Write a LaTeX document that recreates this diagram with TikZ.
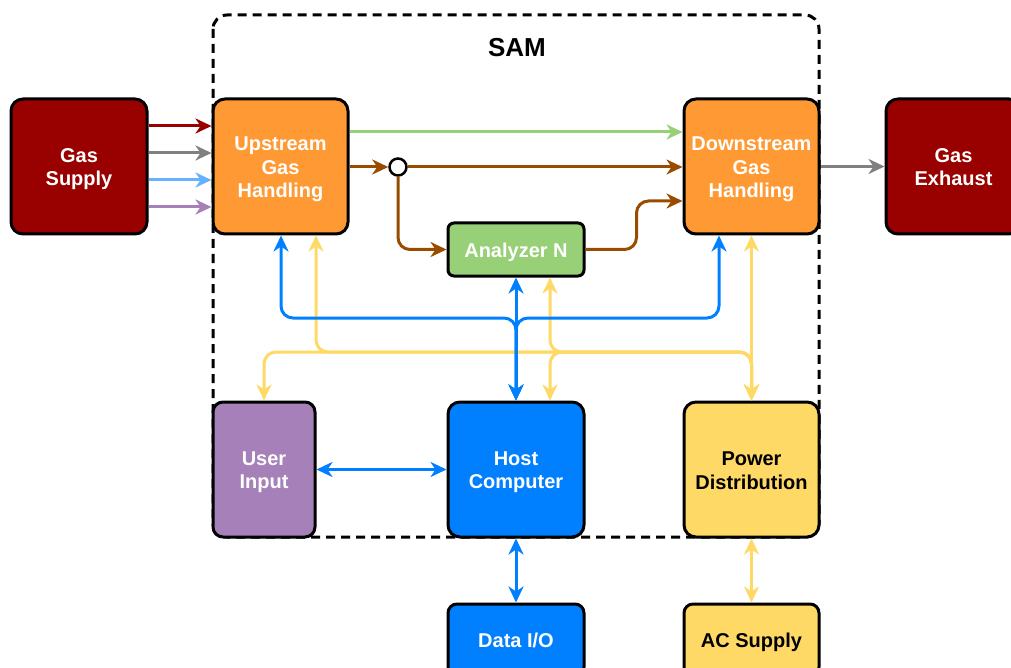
\documentclass[tikz,border=0pt]{standalone}
\usepackage{fontspec}
\setmainfont{Liberation Sans}
\usetikzlibrary{arrows.meta}
\definecolor{cDarkRed}{HTML}{990000}
\definecolor{cOrange}{HTML}{FF9933}
\definecolor{cGreen}{HTML}{97D077}
\definecolor{cPurple}{HTML}{A680B8}
\definecolor{cBlue}{HTML}{007FFF}
\definecolor{cYellow}{HTML}{FFD966}
\definecolor{cBrown}{HTML}{994C00}
\definecolor{cGray}{HTML}{808080}
\definecolor{cLightBlue}{HTML}{66B2FF}
\newcommand\topstrut{\rule{0pt}{19.5pt}}
\newcommand\botstrut{\rule[-3.9pt]{0pt}{0pt}}
\begin{document}
\begin{tikzpicture}[x=1pt,y=-1pt,
  >={Stealth[length=16pt,width=15pt,inset=5pt]},
  box/.style={draw=black, line width=3pt, rounded corners=12pt, align=center, inner sep=0pt,
    font=\bfseries\fontsize{20}{23.4}\selectfont, text=white,
    minimum width=135pt, minimum height=135pt},
  wire/.style={line width=3pt, rounded corners=12pt},
  container/.style={line width=3pt, dash pattern=on 9pt off 6pt, rounded corners=14pt}]
\useasboundingbox (0,0) rectangle (1011,668);
\begin{scope}
\clip (0,0) rectangle (1011,668);
\draw[container] (213,15) rectangle (819,537);
\node[font=\bfseries\fontsize{26}{30}\selectfont] (sam) at (517,48) {SAM};

% nodes
\node[box, fill=cDarkRed, minimum width=136pt] (gs) at (79,166.5) {\topstrut Gas\\Supply\botstrut};
\node[box, fill=cOrange] (up) at (280.5,166.5) {\topstrut Upstream\\Gas\\Handling\botstrut};
\node[box, fill=cOrange] (dn) at (751.5,166.5) {\topstrut Downstream\\Gas\\Handling\botstrut};
\node[box, fill=cDarkRed] (ex) at (953.5,166.5) {\topstrut Gas\\Exhaust\botstrut};
\node[box, fill=cGreen, minimum width=136pt, minimum height=53pt, rounded corners=6pt] (an) at (516,249.5) {\topstrut Analyzer N\botstrut};
\node[box, fill=cPurple, minimum width=102pt, rounded corners=10pt] (ui) at (264,469.5) {\topstrut User\\Input\botstrut};
\node[box, fill=cBlue, minimum width=136pt] (host) at (516,469.5) {\topstrut Host\\Computer\botstrut};
\node[box, fill=cYellow, text=black] (pwr) at (751.5,469.5) {\topstrut Power\\Distribution\botstrut};
\node[box, fill=cBlue, minimum width=136pt, minimum height=72pt, rounded corners=9pt] (dio) at (516,640) {\topstrut Data I/O\botstrut};
\node[box, fill=cYellow, text=black, minimum height=72pt, rounded corners=9pt] (ac) at (751.5,640) {\topstrut AC Supply\botstrut};
\node[circle, draw=black, line width=2.5pt, fill=white, minimum size=17pt, inner sep=0pt] (j) at (398,167) {};

% gas supply lines
\draw[wire, cDarkRed, ->] (gs.east |- 0,126) -- (up.west |- 0,126);
\draw[wire, cGray, ->] (gs.east |- 0,153) -- (up.west |- 0,153);
\draw[wire, cLightBlue, ->] (gs.east |- 0,180) -- (up.west |- 0,180);
\draw[wire, cPurple, ->] (gs.east |- 0,207) -- (up.west |- 0,207);

% gas flow
\draw[wire, cGreen, ->] (up.east |- 0,132) -- (dn.west |- 0,132);
\draw[wire, cBrown, ->] (up.east |- 0,167) -- (j.west);
\draw[wire, cBrown, ->] (j.east) -- (dn.west |- 0,167);
\draw[wire, cBrown, ->] (j.south) |- (an.west);
\draw[wire, cBrown, ->] (an.east) -- ++(51,0) |- (dn.west |- 0,201);
\draw[wire, cGray, ->] (dn.east) -- (ex.west);

% power
\draw[wire, cYellow, <->] (pwr.north) |- (316,352) -- (up.south -| 316,0);
\draw[wire, cYellow, <->] (pwr.north) |- (264,352) -- (ui.north);
\draw[wire, cYellow, <->] (pwr.north) |- (550,352) -- (an.south -| 550,0);
\draw[wire, cYellow, <->] (pwr.north) |- (550,352) -- (host.north -| 550,0);
\draw[wire, cYellow, <->] (pwr.north) -- (dn.south);
\draw[wire, cYellow, <->] (pwr.south) -- (ac.north);

% data
\draw[wire, cBlue, <->] (host.north) |- (281,318) -- (up.south -| 281,0);
\draw[wire, cBlue, <->] (host.north) |- (719,318) -- (dn.south -| 719,0);
\draw[wire, cBlue, <->] (host.north) -- (an.south);
\draw[wire, cBlue, <->] (ui.east) -- (host.west);
\draw[wire, cBlue, <->] (host.south) -- (dio.north);
\end{scope}
\end{tikzpicture}
\end{document}
